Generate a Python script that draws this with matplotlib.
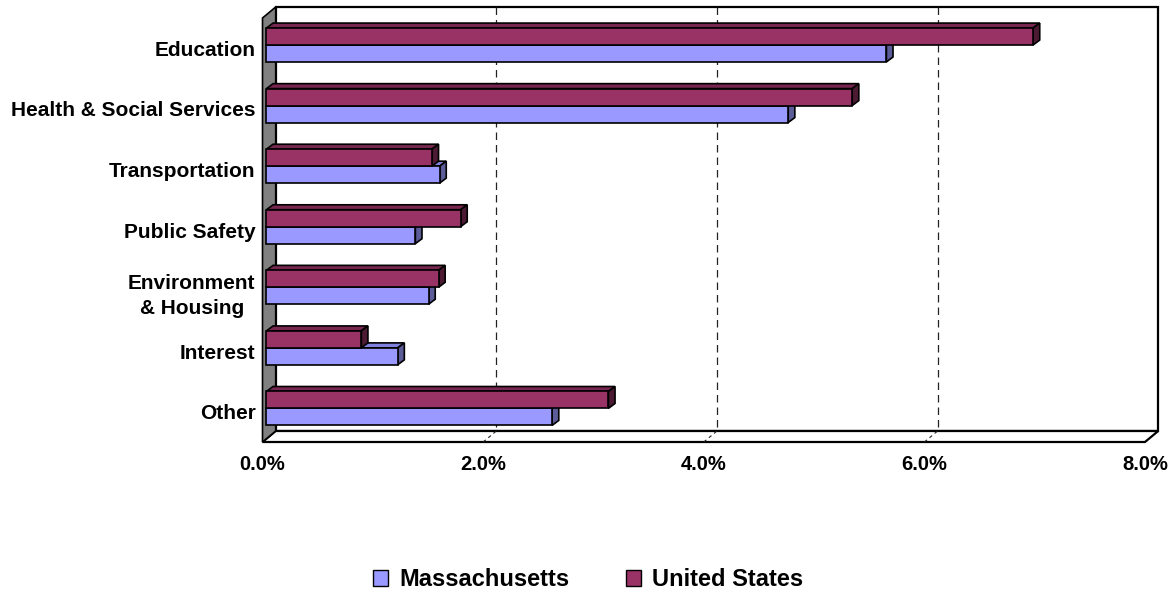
import numpy as np
import matplotlib.pyplot as plt
from matplotlib.patches import Polygon, Patch

plt.rcParams['font.family'] = ['Liberation Sans', 'DejaVu Sans']
plt.rcParams['font.weight'] = 'bold'

categories = ['Education', 'Health & Social Services', 'Transportation',
              'Public Safety', 'Environment\n& Housing', 'Interest', 'Other']
massachusetts = [5.62, 4.73, 1.57, 1.35, 1.47, 1.19, 2.59]
united_states = [6.95, 5.31, 1.50, 1.76, 1.56, 0.86, 3.10]
xticks = [0, 2, 4, 6, 8]

ma_face, ma_top, ma_side = '#9999FF', '#8080DD', '#5C5C99'
us_face, us_top, us_side = '#993366', '#76264F', '#4D1A33'

fig = plt.figure(figsize=(11.75, 5.95), dpi=100)
ax = fig.add_axes([262.5 / 1175, 153 / 595, 882.5 / 1175, 424 / 595])
n = len(categories)
y0, y1 = -0.5, n - 0.5
ax.set_xlim(0, 8)
ax.set_ylim(y1, y0)

# oblique depth of the box (data units)
dx, dy = 0.1197, -0.1816
# bars sit a bit behind the front edge and have their own shallow depth
sx, sy = 0.3 * dx, 0.3 * dy
bx, by = 0.5 * dx, 0.45 * dy
h = 0.28


def poly(pts, fc, lw=1.0, z=1):
    ax.add_patch(Polygon(pts, closed=True, facecolor=fc, edgecolor='black',
                         linewidth=lw, joinstyle='miter', zorder=z, clip_on=False))


# walls and floor
poly([(dx, y0 + dy), (8 + dx, y0 + dy), (8 + dx, y1 + dy), (dx, y1 + dy)], 'white', 1.6, 1)
poly([(0, y1), (8, y1), (8 + dx, y1 + dy), (dx, y1 + dy)], 'white', 1.6, 1.5)
for g in xticks[1:-1]:
    ax.plot([g + dx, g + dx], [y0 + dy, y1 + dy], color='#222222', lw=0.9,
            ls=(0, (6, 4)), zorder=2, clip_on=False)
    ax.plot([g, g + dx], [y1, y1 + dy], color='#222222', lw=0.8,
            ls=(0, (3, 3)), zorder=2, clip_on=False)
poly([(0, y0), (0, y1), (dx, y1 + dy), (dx, y0 + dy)], '#808080', 1.2, 3)


def bar3d(ya, v, face, top, side, z):
    poly([(sx, ya), (sx + v, ya), (sx + v + bx, ya + by), (sx + bx, ya + by)], top, 1.2, z)
    poly([(sx + v, ya), (sx + v, ya + h), (sx + v + bx, ya + h + by),
          (sx + v + bx, ya + by)], side, 1.2, z)
    ax.barh(ya, v, height=h, left=sx, align='edge', color=face,
            edgecolor='black', linewidth=1.2, zorder=z, clip_on=False)


pos = np.arange(n)
for i in pos:
    z = 4 + 2 * i
    bar3d(i + sy, massachusetts[i], ma_face, ma_top, ma_side, z)
    bar3d(i + sy - h, united_states[i], us_face, us_top, us_side, z + 1)

ax.set_yticks(pos)
ax.set_yticklabels(categories, fontsize=15, fontweight='bold')
lab = ax.get_yticklabels()[4]
lab.set_multialignment('center')
lab.set_linespacing(1.45)
ax.set_xticks(xticks)
ax.set_xticklabels([f'{t:.1f}%' for t in xticks], fontsize=14.5, fontweight='bold')
ax.tick_params(axis='x', length=0, pad=9)
ax.tick_params(axis='y', length=0, pad=5)
for s in ax.spines.values():
    s.set_visible(False)
ax.patch.set_visible(False)

handles = [Patch(facecolor=ma_face, edgecolor='black', linewidth=1.0),
           Patch(facecolor=us_face, edgecolor='black', linewidth=1.0)]
fig.legend(handles, ['Massachusetts', 'United States'], loc='center',
           bbox_to_anchor=(588 / 1175, 15 / 595), ncol=2, frameon=False,
           prop={'size': 17, 'weight': 'bold'}, handlelength=0.65,
           handleheight=0.65, handletextpad=0.45, columnspacing=2.4)

fig.savefig('out.png', dpi=100, facecolor='white')
